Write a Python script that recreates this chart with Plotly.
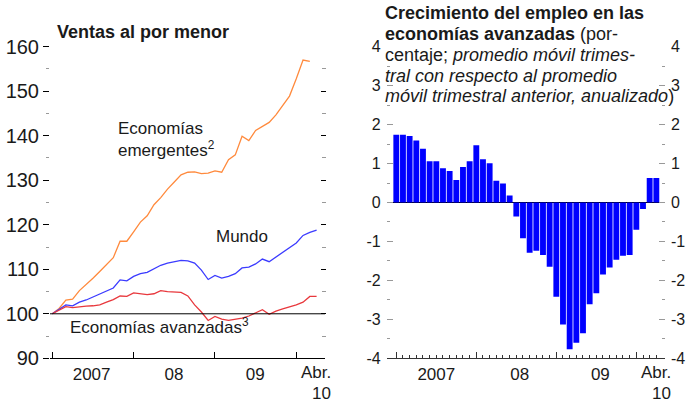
import plotly.graph_objects as go
import pandas as pd

W, H = 687, 402
FONT = "Liberation Sans, Arial, sans-serif"
TXT = "#1a1a1a"

# ---- data -------------------------------------------------------------
months = [p.strftime("%Y-%m") for p in pd.period_range("2007-01", "2010-04", freq="M")]
idx = list(range(len(months)))

# Retail sales index (Jan 2007 = 100)
emergentes = [100.0, 101.2, 103.1, 103.3, 105.2, 106.5, 108.0, 109.5, 111.1, 112.6,
              116.3, 116.3, 118.4, 120.6, 122.0, 124.5, 126.1, 128.0, 129.6, 131.2,
              131.8, 131.9, 131.5, 131.6, 132.1, 131.8, 134.6, 135.7, 139.9, 138.9,
              141.2, 142.1, 143.0, 144.7, 146.7, 148.9, 152.8, 157.0, 156.7]
mundo = [100.0, 101.1, 102.0, 101.8, 102.6, 103.1, 103.8, 104.5, 105.1, 105.8,
         107.6, 107.4, 108.4, 109.0, 109.3, 110.1, 110.9, 111.4, 111.7, 112.0,
         111.9, 111.4, 109.8, 107.7, 108.6, 108.0, 108.4, 109.0, 110.3, 110.5,
         111.2, 112.3, 111.7, 112.8, 113.7, 114.8, 115.9, 117.6, 118.3, 118.8]
avanzadas = [100.0, 100.8, 101.6, 101.4, 101.6, 101.7, 101.8, 102.0, 102.6, 103.2,
             104.0, 103.9, 104.7, 104.5, 104.3, 104.5, 105.2, 105.0, 104.9, 104.8,
             104.0, 102.0, 100.4, 98.5, 99.4, 98.8, 98.5, 98.7, 99.0, 99.5,
             100.2, 100.9, 99.9, 100.6, 101.1, 101.5, 102.0, 102.6, 103.9, 103.9]

# Employment growth in advanced economies (percent)
empleo = [1.74, 1.74, 1.71, 1.59, 1.38, 1.06, 1.06, 0.88, 0.81, 0.58,
          0.91, 1.06, 1.47, 1.11, 1.01, 0.56, 0.49, 0.18, -0.36, -0.92,
          -1.29, -1.24, -1.35, -1.65, -2.42, -3.13, -3.77, -3.60, -3.36, -2.61,
          -2.33, -1.85, -1.67, -1.47, -1.37, -1.35, -0.70, -0.17, 0.63, 0.63]

left_yticks = [90, 100, 110, 120, 130, 140, 150, 160]
right_yticks = [-4, -3, -2, -1, 0, 1, 2, 3, 4]
right_yticktext = ["-4", "-3", "-2", "-1", "0", "1", "2", "3", "4"]
year_starts = [0, 12, 24, 36]
year_labels = ["2007", "08", "09"]
left_label_pos = [5.8, 17.95, 29.95]
right_label_pos = [6.0, 18.5, 30.6]
baseline = 100

# ---- helpers ----------------------------------------------------------
def px(x):
    return x / W

def py(y):
    return 1 - y / H

ydom = [py(358.3), py(46.7)]

fig = go.Figure()
fig.add_trace(go.Scatter(x=idx[:len(emergentes)], y=emergentes, mode="lines",
                         line=dict(color="#FF8A3D", width=1.3), xaxis="x", yaxis="y"))
fig.add_trace(go.Scatter(x=idx, y=mundo, mode="lines",
                         line=dict(color="#3B3BFF", width=1.3), xaxis="x", yaxis="y"))
fig.add_trace(go.Scatter(x=idx, y=avanzadas, mode="lines",
                         line=dict(color="#E8383D", width=1.3), xaxis="x", yaxis="y"))
fig.add_trace(go.Bar(x=idx, y=empleo, marker=dict(color="#0000FF", line=dict(width=0)),
                     xaxis="x2", yaxis="y2"))
# empty helper traces so that the mirror / extra-tick axes get drawn
for xa, ya in (("x", "y3"), ("x3", "y2"), ("x2", "y4")):
    fig.add_trace(go.Scatter(x=[None], y=[None], mode="lines", xaxis=xa, yaxis=ya,
                             hoverinfo="skip", showlegend=False))

tick_font_l = dict(family=FONT, size=20, color=TXT)
tick_font_r = dict(family=FONT, size=16, color=TXT)
xfont = dict(family=FONT, size=17, color=TXT)

fig.update_layout(
    width=W, height=H,
    margin=dict(l=0, r=0, t=0, b=0, autoexpand=False),
    paper_bgcolor="white", plot_bgcolor="white",
    showlegend=False, bargap=0.12, hovermode=False,
    font=dict(family=FONT, color=TXT),
    xaxis=dict(domain=[px(50), px(325)], range=[-0.34, 40.24], anchor="y", automargin=False,
               showline=True, linecolor="black", linewidth=1, showgrid=False, zeroline=False,
               ticks="", tickvals=left_label_pos, ticktext=year_labels, tickfont=xfont,
               minor=dict(tickvals=year_starts, ticks="inside", ticklen=6,
                          tickcolor="black", tickwidth=1)),
    yaxis=dict(domain=ydom, range=[90, 160], anchor="x", showgrid=False, zeroline=False,
               automargin=False, showline=False, tickvals=left_yticks, ticks="outside",
               ticklen=6, tickcolor="black", tickfont=tick_font_l,
               minor=dict(dtick=5, ticks="outside", ticklen=3, tickcolor="#999")),
    yaxis3=dict(overlaying="y", anchor="free", position=px(326), side="right",
                automargin=False,
                range=[90, 160], tickvals=left_yticks, showticklabels=False,
                ticks="inside", ticklen=5, tickcolor="black", showgrid=False,
                zeroline=False, showline=False,
                minor=dict(dtick=5, ticks="inside", ticklen=4, tickcolor="#999")),
    xaxis2=dict(domain=[px(386.7), px(665)], range=[-1.44, 40.3], anchor="y2",
                automargin=False,
                showline=True, linecolor="#333", linewidth=1, showgrid=False, zeroline=False,
                ticks="", tickvals=right_label_pos, ticktext=year_labels, tickfont=xfont,
                minor=dict(tickvals=year_starts, ticks="inside", ticklen=6,
                           tickcolor="#333", tickwidth=1)),
    xaxis3=dict(overlaying="x2", anchor="y2", range=[-1.44, 40.3], tickvals=idx,
                automargin=False,
                ticks="inside", ticklen=3, tickcolor="#333", showticklabels=False,
                showgrid=False, zeroline=False, showline=False),
    yaxis2=dict(domain=ydom, range=[-4, 4], anchor="x2", showgrid=False, automargin=False,
                zeroline=True, zerolinecolor="black", zerolinewidth=1, showline=False,
                tickvals=right_yticks, ticktext=right_yticktext, ticks="inside",
                ticklen=6, tickcolor="#999", tickfont=tick_font_r, ticklabelstandoff=5,
                minor=dict(dtick=0.5, ticks="inside", ticklen=3, tickcolor="#999")),
    yaxis4=dict(overlaying="y2", anchor="x2", side="right", range=[-4, 4],
                automargin=False, ticklabeloverflow="allow", ticklabelstandoff=5,
                showgrid=False, zeroline=False, showline=False,
                tickvals=right_yticks, ticktext=right_yticktext, ticks="inside",
                ticklen=6, tickcolor="#999", tickfont=tick_font_r,
                minor=dict(dtick=0.5, ticks="inside", ticklen=3, tickcolor="#999")),
)

fig.add_shape(type="line", xref="x domain", yref="y", x0=0, x1=1, y0=baseline, y1=baseline,
              line=dict(color="black", width=1))

def ann(text, x, y, size=18, xanchor="left"):
    fig.add_annotation(text=text, x=px(x), y=py(y), xref="paper", yref="paper",
                       xanchor=xanchor, yanchor="middle", showarrow=False,
                       font=dict(family=FONT, size=size, color=TXT))

ann("<b>Ventas al por menor</b>", 55, 32)
ann("<b>Crecimiento del empleo en las</b>", 383, 13)
ann("<b>economías avanzadas</b> (por-", 383, 34)
ann("centaje; <i>promedio móvil trimes-</i>", 383, 55)
ann("<i>tral con respecto al promedio</i>", 383, 76)
ann("<i>móvil trimestral anterior, anualizado</i>)", 383, 96)

ann("Economías", 116, 129, size=17)
ann("emergentes<sup>2</sup>", 116, 149, size=17)
ann("Mundo", 214, 236, size=17)
ann("Economías avanzadas<sup>3</sup>", 68, 326, size=17)

ann("Abr.", 333, 372, size=17, xanchor="right")
ann("10", 333, 393, size=17, xanchor="right")
ann("Abr.", 673, 372, size=17, xanchor="right")
ann("10", 673, 393, size=17, xanchor="right")

fig.write_html("out.html", config={"displayModeBar": False, "staticPlot": True},
               post_script="document.body.style.margin='0';document.body.style.padding='0';")
